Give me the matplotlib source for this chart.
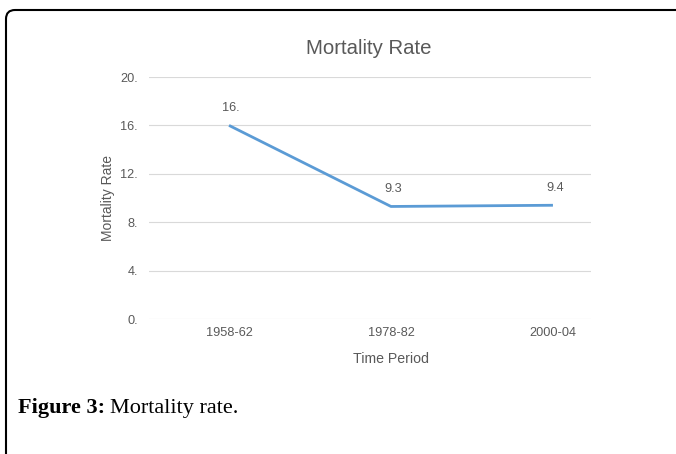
import matplotlib
matplotlib.use("Agg")
import matplotlib.pyplot as plt
from matplotlib.patches import FancyBboxPatch

periods = ["1958-62", "1978-82", "2000-04"]
rates = [16.0, 9.3, 9.4]
rate_labels = ["16.", "9.3", "9.4"]
y_ticks = [0, 4, 8, 12, 16, 20]
y_tick_labels = ["0.", "4.", "8.", "12.", "16.", "20."]

W, H = 676, 454
fig = plt.figure(figsize=(W / 100, H / 100), dpi=100)
fig.patch.set_facecolor("white")

gray = "#595959"
font = "Liberation Sans"

ax = fig.add_axes([149 / W, 1 - 319 / H, (591 - 149) / W, (319 - 77) / H])
x = list(range(len(periods)))
ax.plot(x, rates, color="#5B9BD5", lw=2.0, solid_capstyle="butt", zorder=3)
xmin, xmax = -0.494, 2.235
ax.set_xlim(xmin, xmax)
ax.set_ylim(0, 20)
ax.set_yticks(y_ticks)
ax.set_yticklabels(y_tick_labels)
ax.set_xticks(x)
ax.set_xticklabels(periods)
for s in ax.spines.values():
    s.set_visible(False)
ax.grid(axis="y", color="#D9D9D9", lw=0.8)
ax.set_axisbelow(True)
ax.tick_params(axis="both", length=0, labelsize=9.2, labelcolor=gray)
ax.tick_params(axis="y", pad=8)
ax.tick_params(axis="x", pad=6)
for lab in ax.get_xticklabels() + ax.get_yticklabels():
    lab.set_fontfamily(font)

for xi, v, t in zip(x, rates, rate_labels):
    ax.annotate(t, (xi, v), xytext=(1.5, 8), textcoords="offset points",
                ha="center", va="bottom", fontsize=9.2, color=gray, family=font)

ax.set_xlabel("Time Period", fontsize=10.2, color=gray, family=font, labelpad=5)
ax.xaxis.set_label_coords((1 - xmin) / (xmax - xmin), -0.135)
ax.set_ylabel("Mortality Rate", fontsize=10, color=gray, family=font, labelpad=4)

fig.text(369 / W, 1 - 49 / H, "Mortality Rate", ha="center", va="center",
         fontsize=14.7, color=gray, family=font)

# caption
cap_y = 1 - 408 / H
t1 = fig.text(18 / W, cap_y, "Figure 3:", ha="left", va="center",
              fontsize=16, fontweight="bold", family="Liberation Serif", color="black")
fig.canvas.draw()
bb = t1.get_window_extent()
fig.text((bb.x1 + 5) / W, cap_y, "Mortality rate.", ha="left", va="center",
         fontsize=16, family="Liberation Serif", color="black")

# border
border = FancyBboxPatch((6 / 100, -0.5), 8.0, (444 / 100) + 0.5,
                        boxstyle="round,pad=0,rounding_size=0.09",
                        transform=fig.dpi_scale_trans, fill=False,
                        edgecolor="black", lw=1.5, clip_on=False)
fig.patches.append(border)

fig.savefig("out.png", dpi=100)
